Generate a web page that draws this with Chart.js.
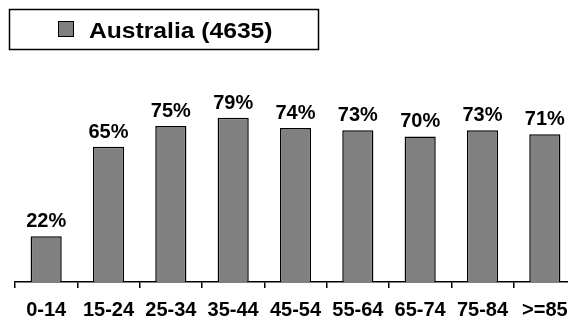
<!DOCTYPE html>
<html>
<head>
<meta charset="utf-8">
<script src="https://cdn.jsdelivr.net/npm/chart.js@4/dist/chart.umd.min.js"></script>
<style>
  html, body { margin: 0; padding: 0; overflow: hidden; background: #fff; }
  #wrap { width: 580px; height: 334px; }
</style>
</head>
<body>
<div id="wrap"><canvas id="ageChart"></canvas></div>
<script>
// age groups and share per group (%)
var categories = ['0-14', '15-24', '25-34', '35-44', '45-54', '55-64', '65-74', '75-84', '>=85'];
var shares = [22, 65, 75, 79, 74, 73, 70, 73, 71];
var seriesLabel = 'Australia (4635)';

var FONT = '"Liberation Sans", Arial, sans-serif';

// legend drawn as a framed box top-left
var boxLegend = {
    id: 'boxLegend',
    afterDraw: function (chart) {
        var ctx = chart.ctx;
        var ds = chart.data.datasets[0];
        ctx.save();
        ctx.strokeStyle = '#000';
        ctx.lineWidth = 1.5;
        ctx.strokeRect(9.5, 9.5, 309, 40);
        ctx.fillStyle = ds.backgroundColor;
        ctx.fillRect(58, 21, 16, 16);
        ctx.lineWidth = 1;
        ctx.strokeRect(58.5, 21.5, 15, 15);
        ctx.fillStyle = '#000';
        ctx.font = 'bold 22px ' + FONT;
        ctx.textAlign = 'left';
        ctx.textBaseline = 'alphabetic';
        // the original legend text is a little wider than Arial
        ctx.translate(89, 37.5);
        ctx.scale(1.12, 1);
        ctx.fillText(ds.label, 0, 0);
        ctx.restore();
    }
};

// percentage above each bar
var barValues = {
    id: 'barValues',
    afterDatasetsDraw: function (chart) {
        var ctx = chart.ctx;
        var meta = chart.getDatasetMeta(0);
        ctx.save();
        ctx.fillStyle = '#000';
        ctx.font = 'bold 20px ' + FONT;
        ctx.textAlign = 'center';
        ctx.textBaseline = 'alphabetic';
        meta.data.forEach(function (bar, i) {
            ctx.fillText(shares[i] + '%', bar.x, bar.y - 9);
        });
        ctx.restore();
    }
};

var ctx = document.getElementById('ageChart');
var chart = new Chart(ctx, {
    type: 'bar',
    data: {
        labels: categories,
        datasets: [{
            label: seriesLabel,
            data: shares,
            backgroundColor: '#808080',
            borderColor: '#000',
            borderWidth: 1.5,
            categoryPercentage: 0.5,
            barPercentage: 1
        }]
    },
    options: {
        responsive: true,
        maintainAspectRatio: false,
        animation: false,
        layout: { padding: { left: 15, right: 4, top: 74, bottom: 2 } },
        plugins: {
            legend: { display: false },
            tooltip: { enabled: false }
        },
        scales: {
            x: {
                offset: true,
                grid: {
                    offset: true,
                    drawOnChartArea: false,
                    drawTicks: true,
                    tickLength: 6,
                    color: '#000',
                    lineWidth: 1.5
                },
                border: { display: true, color: '#000', width: 1.5 },
                ticks: {
                    color: '#000',
                    padding: 10,
                    font: { family: FONT, size: 20, weight: 'bold' }
                }
            },
            y: {
                display: false,
                min: 0,
                max: 100
            }
        }
    },
    plugins: [boxLegend, barValues]
});
</script>
</body>
</html>
